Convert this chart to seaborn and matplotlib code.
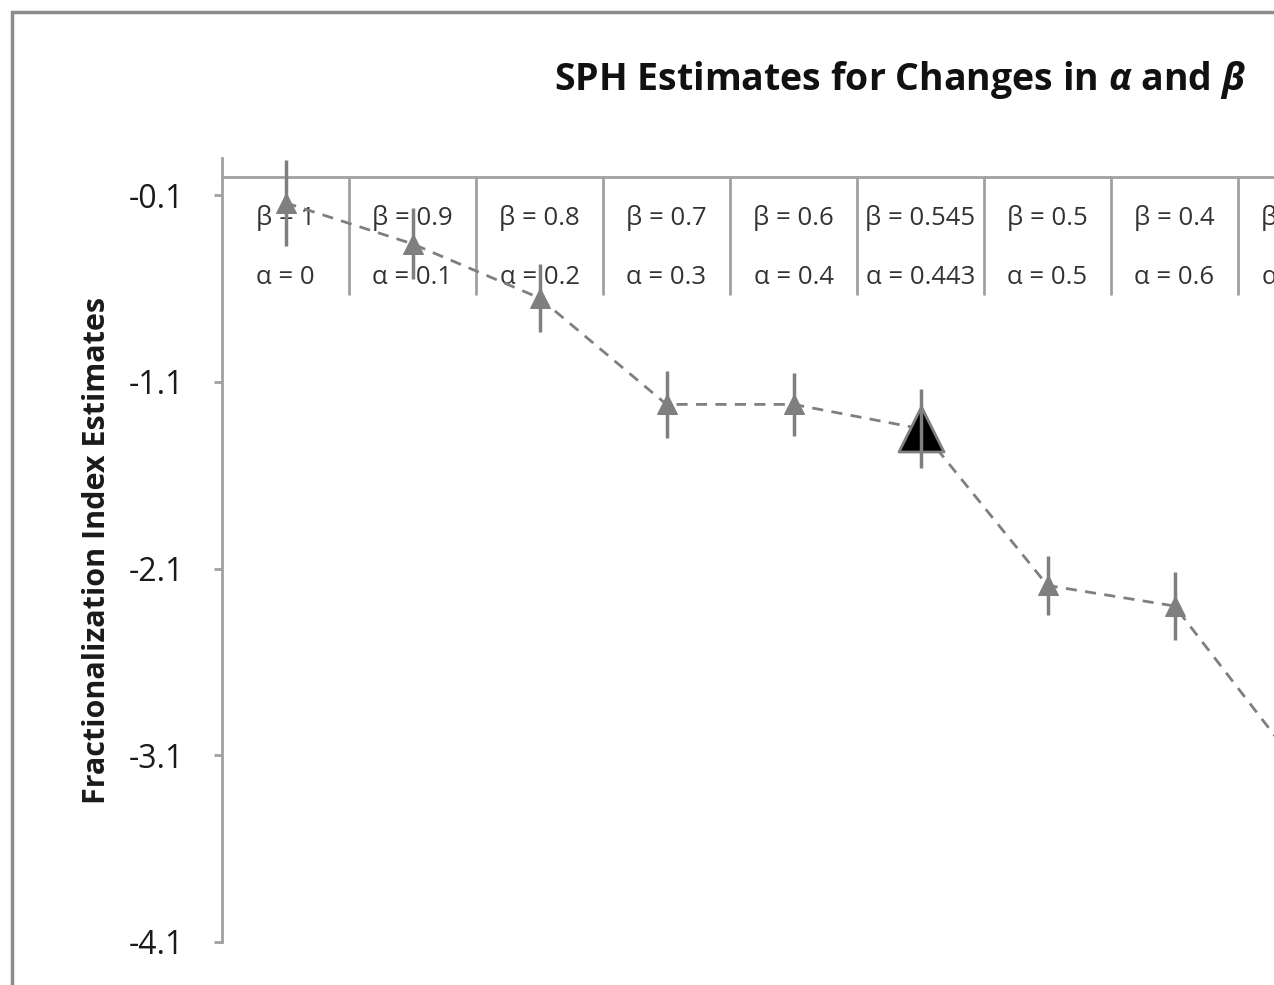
import matplotlib
matplotlib.use("Agg")
import matplotlib.pyplot as plt
import matplotlib.patches as mpatches
import seaborn as sns
import numpy as np

# values (last category is only partly visible)
beta_labels = ["1", "0.9", "0.8", "0.7", "0.6", "0.545", "0.5", "0.4", "0.3"]
alpha_labels = ["0", "0.1", "0.2", "0.3", "0.4", "0.443", "0.5", "0.6", "0.7"]
estimates = [-0.14, -0.36, -0.65, -1.22, -1.22, -1.35, -2.19, -2.30, -3.18]
err = [0.23, 0.19, 0.18, 0.18, 0.17, 0.21, 0.16, 0.18, 0.18]
highlight = 5  # beta = 0.545 / alpha = 0.443
y_ticks = [-4.1, -3.1, -2.1, -1.1, -0.1]

sns.set_theme(style="white")
plt.rcParams["font.family"] = ["Open Sans", "DejaVu Sans"]
plt.rcParams["axes.unicode_minus"] = False
plt.rcParams["mathtext.fontset"] = "custom"
plt.rcParams["mathtext.it"] = "Open Sans:italic:bold"
plt.rcParams["mathtext.rm"] = "Open Sans:bold"

W, H = 1274, 985
fig = plt.figure(figsize=(W / 100, H / 100), dpi=100)
fig.patch.set_facecolor("white")

col_w = 127
left_px, top_px, bot_px = 222, 158, 942
n = len(estimates)
ax = fig.add_axes([left_px / W, 1 - bot_px / H, n * col_w / W, (bot_px - top_px) / H])

grey = "#7f7f7f"
line_grey = "#a0a0a0"
x = np.arange(n)

sns.lineplot(x=x, y=estimates, ax=ax, color=grey, linestyle=(0, (4, 3)), lw=2,
             marker="^", markersize=14, markeredgecolor=grey, markerfacecolor=grey,
             zorder=3)
ax.scatter([x[highlight]], [estimates[highlight]], marker="^", s=1050,
           facecolor="black", edgecolor=grey, linewidth=2, zorder=4)
ax.errorbar(x, estimates, yerr=err, fmt="none", ecolor=grey, elinewidth=2.5,
            capsize=0, zorder=5)

ax.set_xlim(-0.5, n - 0.5)
ax.set_ylim(-4.1, 0.1)
ax.set_yticks(y_ticks)
ax.set_yticklabels([f"{t:.1f}" for t in y_ticks])
ax.set_xticks([])

for s in ["top", "right", "bottom"]:
    ax.spines[s].set_visible(False)
ax.spines["left"].set_color(line_grey)
ax.spines["left"].set_linewidth(2)
ax.tick_params(axis="y", which="both", left=True, length=6, width=2,
               color=line_grey, labelsize=23, pad=21, labelcolor="#1a1a1a")

# category axis crossing at zero with separator lines
ax.axhline(0, color=line_grey, lw=2, zorder=1)
for i in range(n):
    ax.plot([i + 0.5, i + 0.5], [0, -0.63], color=line_grey, lw=2, zorder=1)
    ax.text(i, -0.22, f"β = {beta_labels[i]}", ha="center", va="center",
            fontsize=18.5, color="#333333", zorder=2)
    ax.text(i, -0.54, f"α = {alpha_labels[i]}", ha="center", va="center",
            fontsize=18.5, color="#333333", zorder=2)

ax.set_ylabel("Fractionalization Index Estimates", fontsize=22, fontweight="bold",
              labelpad=12, color="#1a1a1a")

fig.text(900 / W, 1 - 80 / H, r"SPH Estimates for Changes in $\alpha$ and $\beta$",
         ha="center", va="center", fontsize=27, fontweight="bold", color="#111111")

# outer chart border (cut off at the right and bottom)
fig.add_artist(mpatches.Rectangle((12 / W, -0.1), 2, 1 - 12 / H + 0.1,
                                  transform=fig.transFigure, fill=False,
                                  ec="#8c8c8c", lw=2.5))

fig.savefig("out.png", dpi=100)
